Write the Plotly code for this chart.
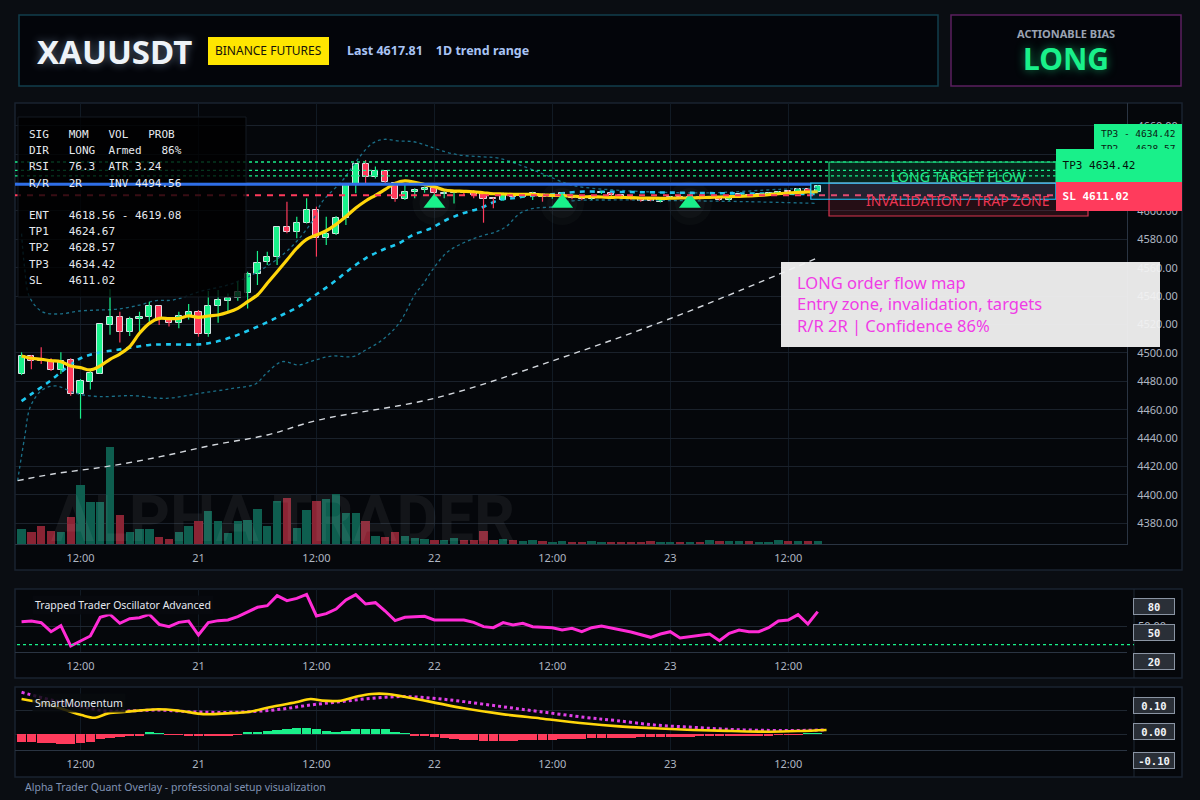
import pandas as pd
import plotly.graph_objects as go

W, H = 1200, 800
SANS = "Noto Sans, DejaVu Sans, sans-serif"
MONO = "DejaVu Sans Mono, monospace"

UP, DOWN = "#19f08a", "#ff3b5c"
VOL_UP, VOL_DOWN = "#0e5e4f", "#8a2434"

# ---------------- data (hourly bars) ----------------
start = pd.Timestamp("2025-12-20 06:00")

opens = [4485.1, 4498.1, 4495.5, 4494.5, 4487.7, 4495.0, 4471.3, 4479.8, 4485.4, 4519.9,
         4525.0, 4514.5, 4523.6, 4525.5, 4532.8, 4523.6, 4520.8, 4526.2, 4528.6, 4513.1,
         4532.8, 4536.8, 4538.4, 4542.4, 4555.3, 4563.8, 4567.3, 4588.4, 4584.9, 4591.2,
         4600.6, 4580.7, 4583.5, 4594.8, 4618.2, 4632.8, 4623.6, 4628.1, 4619.9, 4608.1,
         4613.1, 4614.7, 4616.4, 4612.0, 4612.6, 4613.0, 4613.5, 4611.7, 4609.3, 4607.7,
         4610.7, 4610.0, 4611.2, 4610.7, 4609.5, 4610.0, 4609.5, 4610.0, 4608.1, 4612.4,
         4612.4, 4611.2, 4609.3, 4608.1, 4608.1, 4606.5, 4609.1, 4610.0, 4609.1, 4609.8,
         4609.1, 4608.9, 4607.7, 4610.0, 4611.2, 4610.5, 4611.2, 4611.9, 4614.0, 4613.5,
         4615.2, 4613.5]
highs = [4500.4, 4498.5, 4503.9, 4496.2, 4500.4, 4496.2, 4481.6, 4487.5, 4520.1, 4544.8,
         4529.0, 4525.5, 4529.0, 4536.1, 4532.8, 4525.0, 4529.0, 4534.4, 4530.2, 4543.6,
         4544.3, 4541.9, 4550.2, 4557.2, 4571.8, 4571.3, 4588.9, 4606.5, 4595.9, 4608.9,
         4603.0, 4595.9, 4596.4, 4618.2, 4632.8, 4635.8, 4631.2, 4628.1, 4620.6, 4618.9,
         4615.9, 4617.1, 4617.1, 4614.7, 4614.7, 4614.0, 4614.7, 4612.9, 4609.3, 4612.9,
         4611.5, 4611.5, 4613.5, 4612.4, 4611.7, 4613.0, 4610.5, 4610.5, 4610.5, 4614.0,
         4612.9, 4611.5, 4609.8, 4608.6, 4608.5, 4609.3, 4610.5, 4610.5, 4610.5, 4610.2,
         4610.5, 4609.3, 4609.3, 4612.0, 4611.7, 4612.0, 4612.9, 4614.0, 4614.5, 4615.6,
         4615.9, 4618.2]
lows = [4484.4, 4488.4, 4492.2, 4487.2, 4485.1, 4469.9, 4453.7, 4474.3, 4485.4, 4512.8,
        4507.4, 4511.9, 4515.0, 4522.0, 4519.6, 4518.5, 4517.3, 4523.6, 4511.4, 4511.4,
        4521.3, 4529.0, 4536.8, 4531.2, 4547.8, 4561.9, 4561.9, 4584.2, 4580.7, 4591.2,
        4567.8, 4576.0, 4583.0, 4590.1, 4612.4, 4619.4, 4622.9, 4619.4, 4606.5, 4607.7,
        4608.9, 4612.8, 4611.0, 4608.9, 4605.3, 4611.0, 4608.9, 4591.7, 4601.8, 4607.2,
        4609.5, 4609.2, 4607.7, 4606.5, 4608.6, 4609.5, 4608.2, 4607.5, 4607.7, 4611.9,
        4610.5, 4609.5, 4607.5, 4606.5, 4606.8, 4606.0, 4608.6, 4608.6, 4608.6, 4608.1,
        4608.6, 4607.2, 4607.2, 4609.6, 4609.6, 4610.0, 4610.8, 4611.5, 4612.5, 4613.0,
        4613.0, 4613.0]
closes = [4498.1, 4494.5, 4494.3, 4487.7, 4494.5, 4471.3, 4480.0, 4485.6, 4520.1, 4525.0,
          4514.5, 4523.6, 4525.5, 4532.8, 4523.6, 4520.8, 4526.2, 4528.6, 4513.1, 4532.8,
          4537.2, 4538.7, 4542.7, 4555.6, 4563.5, 4567.5, 4588.9, 4585.1, 4591.2, 4600.6,
          4580.7, 4583.5, 4594.8, 4618.2, 4632.8, 4623.6, 4628.1, 4620.6, 4608.1, 4613.1,
          4614.7, 4616.4, 4612.4, 4612.6, 4613.0, 4612.4, 4611.2, 4608.6, 4608.1, 4611.7,
          4610.0, 4610.7, 4612.4, 4610.0, 4610.7, 4612.4, 4608.9, 4608.1, 4610.0, 4613.5,
          4611.2, 4610.0, 4608.1, 4607.2, 4607.2, 4608.9, 4610.0, 4609.1, 4610.0, 4608.6,
          4610.0, 4607.7, 4608.9, 4611.7, 4610.0, 4611.7, 4612.4, 4613.5, 4613.1, 4615.2,
          4613.5, 4617.8]
volumes = [1533, 1233, 1833, 1333, 1233, 2733, 5933, 4233, 4233, 9733,
           2933, 1233, 1533, 1533, 733, 533, 1233, 1833, 2333, 3333,
           2333, 1133, 2333, 2433, 3533, 1833, 4333, 4633, 1633, 3433,
           4333, 4533, 5033, 3133, 3133, 2333, 833, 733, 1233, 833,
           633, 533, 433, 433, 633, 433, 433, 1333, 433, 533,
           433, 333, 433, 333, 233, 333, 233, 233, 333, 233,
           233, 233, 133, 233, 333, 233, 233, 233, 233, 233,
           433, 333, 333, 333, 333, 233, 233, 433, 333, 333,
           333, 333]

# fast average (yellow), one value per bar
ema_fast = [4497.8, 4496.2, 4495.5, 4494.5, 4493.8, 4490.8, 4489.6, 4488.0, 4490.8, 4495.5,
            4499.2, 4504.4, 4513.8, 4520.8, 4524.3, 4524.1, 4524.3, 4526.0, 4525.0, 4526.0,
            4526.7, 4528.6, 4531.4, 4536.1, 4540.8, 4549.0, 4557.2, 4565.4, 4573.7, 4580.0,
            4583.0, 4586.0, 4590.5, 4596.0, 4602.0, 4607.0, 4611.0, 4615.2, 4619.4, 4621.1,
            4620.1, 4618.5, 4617.1, 4614.7, 4614.0, 4613.8, 4613.5, 4612.8, 4612.1, 4611.9,
            4611.7, 4611.7, 4611.7, 4611.2, 4611.0, 4610.7, 4610.5, 4610.0, 4610.0, 4609.8,
            4609.6, 4609.6, 4609.3, 4609.1, 4609.0, 4608.9, 4608.9, 4609.1, 4609.1, 4609.3,
            4609.6, 4609.8, 4610.0, 4610.3, 4610.5, 4611.0, 4611.4, 4612.1, 4612.6, 4613.1,
            4613.3, 4613.5]

# slower average (cyan dashed), read at bar offsets (hours from start)
slow_h = [0, 1.1, 2.8, 4.5, 6.0, 7.9, 9.6, 11.3, 13.0, 14.7, 18.1, 19.8, 21.5, 23.2, 24.9,
          26.5, 28.2, 29.9, 31.6, 33.3, 35.0, 36.7, 38.4, 39.8, 41.5, 43.2, 44.9, 46.6, 48.6,
          49.9, 51.6, 54.0, 56.7, 60.0, 65.0, 70.0, 75.0, 81.0]
slow_v = [4466.0, 4471.5, 4479.7, 4489.1, 4496.2, 4500.2, 4502.0, 4503.9, 4505.6, 4506.0,
          4506.0, 4507.9, 4511.4, 4516.1, 4521.3, 4526.7, 4532.6, 4540.8, 4549.0, 4558.4,
          4566.6, 4572.5, 4577.2, 4583.0, 4587.3, 4593.6, 4598.3, 4601.8, 4607.7, 4608.9,
          4610.5, 4611.7, 4613.5, 4613.4, 4613.0, 4612.5, 4612.2, 4611.9]

# envelope bands (dotted)
upper_h = [0, 0.3, 0.8, 2.1, 3.8, 5.9, 7.9, 9.9, 12.0, 13.7, 15.4, 18.1, 21.5, 24.9, 27.5,
           29.5, 30.6, 32.7, 34.4, 35.7, 36.9, 38.4, 39.8, 41.1, 42.5, 44.5, 46.6, 48.6, 51.6,
           53.3, 55.4, 56.7, 63.5, 70.3, 77.1, 81.0]
upper_v = [4584.0, 4560.7, 4539.6, 4529.0, 4527.4, 4529.5, 4530.2, 4530.9, 4533.7, 4536.8,
           4537.2, 4543.1, 4549.0, 4560.7, 4575.0, 4592.0, 4606.5, 4621.8, 4638.2, 4647.6,
           4650.4, 4649.2, 4648.8, 4646.4, 4642.9, 4639.4, 4638.2, 4637.0, 4630.0, 4625.3,
           4619.4, 4617.1, 4613.5, 4612.8, 4615.2, 4615.9]
lower_h = [-0.4, 0.3, 0.9, 2.1, 3.5, 5.5, 7.9, 11.3, 14.7, 18.1, 21.5, 23.8, 24.9, 26.5,
           28.2, 29.9, 31.6, 33.7, 35.0, 36.7, 38.4, 40.1, 40.8, 41.8, 43.2, 44.5, 46.4,
           48.3, 49.3, 50.7, 52.1, 54.1, 55.4, 60.2, 67.0, 73.8, 81.0]
lower_v = [4410.0, 4440.0, 4462.1, 4473.9, 4476.7, 4471.5, 4469.2, 4469.9, 4468.0, 4471.5,
           4475.0, 4478.1, 4485.6, 4493.8, 4491.5, 4495.0, 4497.8, 4497.4, 4502.0, 4509.1,
           4520.8, 4542.0, 4548.0, 4558.4, 4570.3, 4576.0, 4581.5, 4585.4, 4588.9, 4598.3,
           4601.8, 4603.0, 4606.5, 4607.7, 4607.2, 4606.5, 4605.3]

# long trend average (white dashed)
trend_h = [-0.4, 3.2, 8.6, 14.1, 19.5, 25.0, 30.2, 42.1, 54.7, 66.9, 81.0]
trend_v = [4410.0, 4414.7, 4419.9, 4426.9, 4435.1, 4442.2, 4452.7, 4468.2, 4496.0, 4526.6, 4567.0]

# long signals (triangles)
signal_idx = [42, 55, 68]
signal_px = [4605.5, 4605.5, 4605.5]

# trade plan
entry_lo, entry_hi = 4618.56, 4619.08
tp_levels = [4624.67, 4628.57, 4634.42]
sl_level = 4611.02

# Trapped Trader Oscillator, one value per bar
osc = [55.9, 56.8, 54.6, 42.4, 50.5, 23.1, 29.8, 36.6, 61.8, 65.8,
       53.7, 60.0, 61.3, 65.8, 52.3, 49.2, 55.0, 56.8, 37.9, 54.6,
       57.3, 58.2, 62.7, 69.4, 75.3, 77.5, 91.0, 84.3, 87.4, 92.8,
       63.6, 66.7, 73.0, 85.2, 92.4, 79.8, 81.6, 70.3, 57.3, 61.8,
       62.7, 63.1, 58.2, 58.2, 58.6, 58.2, 55.0, 49.2, 47.8, 54.6,
       51.4, 53.7, 49.2, 48.3, 47.8, 44.7, 46.9, 42.4, 47.8, 50.1,
       47.8, 44.7, 42.0, 37.9, 34.8, 39.3, 42.4, 33.9, 35.7, 36.6,
       39.3, 30.3, 40.2, 44.7, 42.4, 42.4, 47.8, 56.8, 58.2, 65.4,
       52.8, 69.4]

# SmartMomentum
mom_hist = [-0.032, -0.035, -0.036, -0.039, -0.042, -0.043, -0.039, -0.032, -0.022, -0.017,
            -0.011, -0.008, -0.006, 0.006, 0.003, -0.004, -0.004, -0.006, -0.007, -0.008,
            -0.007, -0.006, -0.003, 0.006, 0.010, 0.014, 0.018, 0.022, 0.025, 0.025,
            0.022, 0.014, 0.010, 0.0125, 0.019, 0.021, 0.021, 0.019, 0.010, 0.003,
            -0.006, -0.010, -0.014, -0.018, -0.022, -0.025, -0.026, -0.028, -0.028, -0.028,
            -0.028, -0.026, -0.025, -0.025, -0.024, -0.022, -0.021, -0.019, -0.018, -0.018,
            -0.017, -0.017, -0.015, -0.014, -0.014, -0.0125, -0.0125, -0.011, -0.011, -0.010,
            -0.010, -0.008, -0.008, -0.007, -0.007, -0.006, -0.006, -0.004, -0.004, -0.003,
            0.003, 0.003]
mom_fast_h = [0, 2.2, 4.5, 6.1, 7.5, 8.8, 10.7, 13.9, 16.2, 18.5, 20.9, 23.2, 25.5, 27.9,
              29.4, 30.6, 32.5, 34.1, 35.6, 37.2, 38.8, 41.9, 45.0, 48.9, 52.8, 57.4, 60.5,
              64.4, 68.3, 72.2, 76.1, 79.2, 81.9]
mom_fast_v = [0.146, 0.128, 0.100, 0.079, 0.068, 0.086, 0.093, 0.103, 0.096, 0.083, 0.086,
              0.093, 0.114, 0.132, 0.146, 0.139, 0.139, 0.156, 0.167, 0.167, 0.156, 0.132,
              0.107, 0.083, 0.065, 0.044, 0.033, 0.024, 0.017, 0.0125, 0.0097, 0.0125, 0.017]
mom_slow_h = [0, 3.0, 6.1, 8.4, 10.7, 13.9, 17.0, 20.1, 23.2, 26.3, 29.4, 32.5, 35.6, 38.8,
              41.9, 45.0, 48.9, 52.8, 57.4, 60.5, 64.4, 68.3, 72.2, 76.1, 79.2, 81.9]
mom_slow_v = [0.174, 0.142, 0.114, 0.097, 0.096, 0.100, 0.093, 0.090, 0.093, 0.103, 0.121,
              0.135, 0.149, 0.156, 0.149, 0.135, 0.114, 0.093, 0.069, 0.056, 0.0375, 0.028,
              0.019, 0.015, 0.015, 0.017]

tick_vals = ["2025-12-20 12:00", "2025-12-21 00:00", "2025-12-21 12:00", "2025-12-22 00:00",
             "2025-12-22 12:00", "2025-12-23 00:00", "2025-12-23 12:00"]
tick_text = ["12:00", "21", "12:00", "22", "12:00", "23", "12:00"]
price_ticks = list(range(4380, 4661, 20))


# ---------------- helpers ----------------
def px(x):
    return x / W


def py(y):
    return 1 - y / H


def at_hours(hs):
    return [start + pd.Timedelta(hours=h) for h in hs]


times = at_hours(range(len(closes)))
is_up = [c >= o for o, c in zip(opens, closes)]

x_range = ["2025-12-20 05:20", "2025-12-24 22:28"]
zone_start = "2025-12-23 16:09"
entry_start = "2025-12-23 14:18"
green_end = "2025-12-24 15:14"
red_end = "2025-12-24 18:30"

fig = go.Figure()

# volume (base axis of the main panel)
fig.add_trace(go.Bar(
    x=times, y=volumes, width=0.85 * 3.6e6,
    marker=dict(color=[VOL_UP if u else VOL_DOWN for u in is_up], line=dict(width=0)),
    xaxis="x", yaxis="y", hoverinfo="skip"))

# bands and averages
fig.add_trace(go.Scatter(x=at_hours(upper_h), y=upper_v, mode="lines", yaxis="y2",
                         line=dict(color="#1b6f88", width=1.3, dash="dot", shape="spline")))
fig.add_trace(go.Scatter(x=at_hours(lower_h), y=lower_v, mode="lines", yaxis="y2",
                         line=dict(color="#1b6f88", width=1.3, dash="dot", shape="spline")))
fig.add_trace(go.Scatter(x=at_hours(trend_h), y=trend_v, mode="lines", yaxis="y2",
                         line=dict(color="#d4d8de", width=1.4, dash="6px,5px", shape="spline")))
fig.add_trace(go.Scatter(x=at_hours(slow_h), y=slow_v, mode="lines", yaxis="y2",
                         line=dict(color="#1ec8f0", width=2.6, dash="5px,5px", shape="spline")))

# wicks
for up in (True, False):
    wx, wy = [], []
    for t, h, l, u in zip(times, highs, lows, is_up):
        if u == up:
            wx += [t, t, None]
            wy += [l, h, None]
    fig.add_trace(go.Scatter(x=wx, y=wy, mode="lines", yaxis="y2", hoverinfo="skip",
                             line=dict(color=UP if up else DOWN, width=1.2)))

# bodies
fig.add_trace(go.Bar(
    x=times, y=[max(abs(c - o), 0.6) for o, c in zip(opens, closes)],
    base=[min(o, c) for o, c in zip(opens, closes)], width=0.62 * 3.6e6,
    marker=dict(color=[UP if u else DOWN for u in is_up],
                line=dict(color="rgba(235,240,245,0.9)", width=1)),
    xaxis="x", yaxis="y2"))

fig.add_trace(go.Scatter(x=times, y=ema_fast, mode="lines", yaxis="y2",
                         line=dict(color="#ffd60a", width=3.2, shape="spline")))

# signal triangles with a soft glow
sig_t = [times[i] for i in signal_idx]
fig.add_trace(go.Scatter(x=sig_t, y=signal_px, mode="markers", yaxis="y2",
                         marker=dict(symbol="circle", size=44, color="rgba(170,190,180,0.035)")))
fig.add_trace(go.Scatter(x=sig_t, y=signal_px, mode="markers", yaxis="y2",
                         marker=dict(symbol="circle", size=30, color="rgba(170,190,180,0.04)")))
fig.add_trace(go.Scatter(x=sig_t, y=signal_px, mode="markers", yaxis="y2",
                         marker=dict(symbol="triangle-up", size=19, color=UP, line=dict(width=0))))

# oscillator
fig.add_trace(go.Scatter(x=times, y=osc, mode="lines", xaxis="x2", yaxis="y3",
                         line=dict(color="#ff2bd6", width=3)))

# momentum
fig.add_trace(go.Bar(x=times, y=mom_hist, width=0.95 * 3.6e6, xaxis="x3", yaxis="y4",
                     marker=dict(color=[UP if v > 0 else DOWN for v in mom_hist], line=dict(width=0))))
fig.add_trace(go.Scatter(x=at_hours(mom_slow_h), y=mom_slow_v, mode="lines", xaxis="x3", yaxis="y4",
                         line=dict(color="#e040e8", width=3, dash="dot", shape="spline")))
fig.add_trace(go.Scatter(x=at_hours(mom_fast_h), y=mom_fast_v, mode="lines", xaxis="x3", yaxis="y4",
                         line=dict(color="#ffd60a", width=2.6, shape="spline")))

# ---------------- shapes ----------------
shapes = []


def box(x0, y0, x1, y1, **kw):
    shapes.append(dict(type="rect", xref="paper", yref="paper",
                       x0=px(x0), x1=px(x1), y0=py(y1), y1=py(y0), **kw))


# header cards and panels
box(19, 15, 938, 86, line=dict(color="#123e4c", width=1.5), fillcolor="#03050a", layer="below")
box(951, 15, 1181, 86, line=dict(color="#5b1f5f", width=1.5), fillcolor="#03050a", layer="below")
box(208, 37, 329, 65, line=dict(width=0), fillcolor="#ffe600", layer="below")
box(15, 103, 1182, 570, line=dict(color="#1a2330", width=1.5), fillcolor="#05070b", layer="below")
box(15, 589, 1182, 678, line=dict(color="#1a2330", width=1.5), fillcolor="#05070b", layer="below")
box(15, 687, 1182, 777, line=dict(color="#1a2330", width=1.5), fillcolor="#05070b", layer="below")

# target / stop levels
for lvl in tp_levels:
    shapes.append(dict(type="line", xref="x", yref="y2", x0=x_range[0], x1=green_end, y0=lvl, y1=lvl,
                       line=dict(color=UP, width=1.4, dash="dot"), layer="above"))
shapes.append(dict(type="line", xref="x", yref="y2", x0=x_range[0], x1=green_end, y0=sl_level, y1=sl_level,
                   line=dict(color=DOWN, width=2, dash="6px,6px"), layer="above"))

# info card
box(18, 117, 246, 297, line=dict(color="#141a22", width=1), fillcolor="rgba(0,0,0,0.78)", layer="above")

entry_mid = (entry_lo + entry_hi) / 2
shapes.append(dict(type="line", xref="x", yref="y2", x0=x_range[0], x1=entry_start, y0=entry_mid, y1=entry_mid,
                   line=dict(color="#2f6fe8", width=3), layer="above"))

# zones
shapes.append(dict(type="rect", xref="x", yref="y2", x0=zone_start, x1=green_end, y0=4619.6, y1=tp_levels[2],
                   fillcolor="rgba(25,240,138,0.13)", line=dict(color="#1bbf72", width=1.2), layer="above"))
shapes.append(dict(type="rect", xref="x", yref="y2", x0=zone_start, x1=red_end, y0=4596.4, y1=4619.6,
                   fillcolor="rgba(255,59,92,0.13)", line=dict(color="#d8344f", width=1.2), layer="above"))
shapes.append(dict(type="rect", xref="x", yref="y2", x0=entry_start, x1=green_end, y0=4608.2, y1=4619.6,
                   fillcolor="rgba(30,190,255,0.12)", line=dict(color="#1ec8ff", width=1.2), layer="above"))

# axis price tag (back)
box(1094, 124, 1182, 162, line=dict(width=0), fillcolor=UP, layer="above")

# note card
box(781, 262, 1160, 347, line=dict(width=0), fillcolor="rgba(242,242,242,0.95)", layer="above")

# oscillator trap line and panel dividers
shapes.append(dict(type="line", xref="paper", yref="y3", x0=px(17), x1=px(1134), y0=25, y1=25,
                   line=dict(color=UP, width=1.2, dash="dot"), layer="above"))
for y0, y1 in ((589, 678), (687, 777)):
    shapes.append(dict(type="line", xref="paper", yref="paper", x0=px(1134), x1=px(1134),
                       y0=py(y1), y1=py(y0), line=dict(color="#1f2935", width=1), layer="below"))

# ---------------- annotations ----------------
ann = []


def text(x, y, s, size=12, color="#e6eaef", family=SANS, xanchor="left", **kw):
    ann.append(dict(x=px(x), y=py(y), xref="paper", yref="paper", text=s, showarrow=False,
                    xanchor=xanchor, yanchor="middle", font=dict(size=size, color=color, family=family), **kw))


text(35, 52, "<b>XAUUSDT</b>", 33, "#eef3f8")
ann[-1]["font"]["shadow"] = "0 0 10px rgba(190,220,255,0.45)"
text(268.5, 51, "BINANCE FUTURES", 12, "#15130a", xanchor="center")
text(345, 51, "<b>Last 4617.81    1D trend range</b>", 12.5, "#a9c4f5")
text(1066, 34, "<b>ACTIONABLE BIAS</b>", 11, "#9aa3b2", xanchor="center")
text(1066, 58, "<b>LONG</b>", 30, UP, xanchor="center")
ann[-1]["font"]["shadow"] = "0 0 10px rgba(25,240,138,0.55)"

info_rows = [
    (134, "SIG   MOM   VOL   PROB"),
    (150, "DIR   LONG  Armed   86%"),
    (166, "RSI   76.3  ATR 3.24"),
    (183, "R/R   2R    INV 4494.56"),
    (215, f"ENT   {entry_lo:.2f} - {entry_hi:.2f}"),
    (231, f"TP1   {tp_levels[0]:.2f}"),
    (247, f"TP2   {tp_levels[1]:.2f}"),
    (264, f"TP3   {tp_levels[2]:.2f}"),
    (280, f"SL    {sl_level:.2f}"),
]
for yy, s in info_rows:
    text(27, yy, s.replace(" ", "&nbsp;"), 11, "#e6eaef", MONO)

text(958, 177, "LONG TARGET FLOW", 14, "#22ea8c", xanchor="center")
text(958, 200, "INVALIDATION / TRAP ZONE", 14, "#ec3552", xanchor="center")

# back tag text, then front tags drawn over it
text(1099, 133, f"TP3 - {tp_levels[2]:.2f}", 9.5, "#0a1a12", MONO)
text(1099, 148, f"TP2 - {tp_levels[1]:.2f}", 9.5, "#0a1a12", MONO)
ann.append(dict(x=px(1056), y=py(165.5), xref="paper", yref="paper", showarrow=False,
                xanchor="left", yanchor="middle", align="left", width=126, height=33,
                bgcolor=UP, borderpad=0, borderwidth=0,
                text=f"&nbsp;TP3 {tp_levels[2]:.2f}", font=dict(size=11, color="#04120b", family=MONO)))
ann.append(dict(x=px(1056), y=py(196.5), xref="paper", yref="paper", showarrow=False,
                xanchor="left", yanchor="middle", align="left", width=126, height=29,
                bgcolor=DOWN, borderpad=0, borderwidth=0,
                text=f"<b>&nbsp;SL {sl_level:.2f}</b>", font=dict(size=11, color="#ffffff", family=MONO)))

ann.append(dict(x=px(795), y=py(304), xref="paper", yref="paper", showarrow=False,
                xanchor="left", yanchor="middle", align="left",
                text="LONG order flow map<br>Entry zone, invalidation, targets<br>R/R 2R | Confidence 86%",
                font=dict(size=16.5, color="#f03ce6", family=SANS)))

ann.append(dict(x=px(283), y=py(519), xref="paper", yref="paper", showarrow=False,
                xanchor="center", yanchor="middle", text="<b>ALPHA TRADER</b>",
                font=dict(size=64, color="rgba(255,255,255,0.06)", family="Roboto, " + SANS)))

text(32, 605, "Trapped Trader Oscillator Advanced", 10.5, "#e4e8ee", bgcolor="rgba(8,10,14,0.9)", borderpad=2)
text(32, 703, "SmartMomentum", 10.5, "#e4e8ee", bgcolor="rgba(8,10,14,0.85)", borderpad=2)
text(23, 787, "Alpha Trader Quant Overlay - professional setup visualization", 10.5, "#8093b4")

for yy, s in ((606.5, "80"), (632, "50"), (661, "20"), (705, "0.10"), (731.5, "0.00"), (760, "-0.10")):
    ann.append(dict(x=px(1153.5), y=py(yy), xref="paper", yref="paper", showarrow=False,
                    xanchor="center", yanchor="middle", text=f"<b>{s}</b>", width=38, height=13,
                    bgcolor="#2a2f37", bordercolor="#8a94a3", borderwidth=1, borderpad=1,
                    font=dict(size=10.5, color="#f2f4f7", family=MONO)))

# ---------------- layout ----------------
tickfont = dict(size=11, color="#aeb6c2", family=SANS)
xdom = [px(15), px(1127)]
xcommon = dict(domain=xdom, type="date", tickmode="array", tickvals=tick_vals, ticktext=tick_text,
               tickfont=tickfont, showgrid=True, gridcolor="#111a24", gridwidth=1, zeroline=False,
               showline=True, linecolor="#2a3442", ticks="", ticklabelstandoff=4)

fig.update_layout(
    width=W, height=H,
    margin=dict(l=0, r=0, t=0, b=0),
    paper_bgcolor="#0a0d12",
    plot_bgcolor="rgba(0,0,0,0)",
    showlegend=False,
    barmode="overlay",
    bargap=0,
    hovermode=False,
    xaxis=dict(xcommon, anchor="y", range=x_range),
    yaxis=dict(domain=[py(544), py(103)], range=[0, 44100], visible=False, fixedrange=True),
    yaxis2=dict(domain=[py(544), py(103)], overlaying="y", side="right", anchor="x",
                range=[4365.4, 4676.0], tickmode="array", tickvals=price_ticks,
                ticktext=[f"{v:.2f}" for v in price_ticks], tickfont=tickfont,
                showgrid=True, gridcolor="#1a212b", zeroline=False, showline=True,
                linecolor="#2a3442", ticks="", ticklabelstandoff=7),
    xaxis2=dict(xcommon, anchor="y3", matches="x"),
    yaxis3=dict(domain=[py(652), py(589)], range=[15, 100], side="right", anchor="x2",
                tickmode="array", tickvals=[50], ticktext=["50.00"], tickfont=tickfont,
                showgrid=True, gridcolor="#1f2731", zeroline=False, ticks="", ticklabelstandoff=10),
    xaxis3=dict(xcommon, anchor="y4", matches="x"),
    yaxis4=dict(domain=[py(750), py(687)], range=[-0.0667, 0.196], side="right", anchor="x3",
                tickmode="array", tickvals=[0, 0.1], showticklabels=False,
                showgrid=True, gridcolor="#1f2731", zeroline=False, ticks=""),
    shapes=shapes,
    annotations=ann,
)

# the page's default body margin would shift the 1200x800 figure; remove it
fig.write_html("out.html", config={"displayModeBar": False},
               post_script="document.body.style.margin='0';document.body.style.overflow='hidden';")
